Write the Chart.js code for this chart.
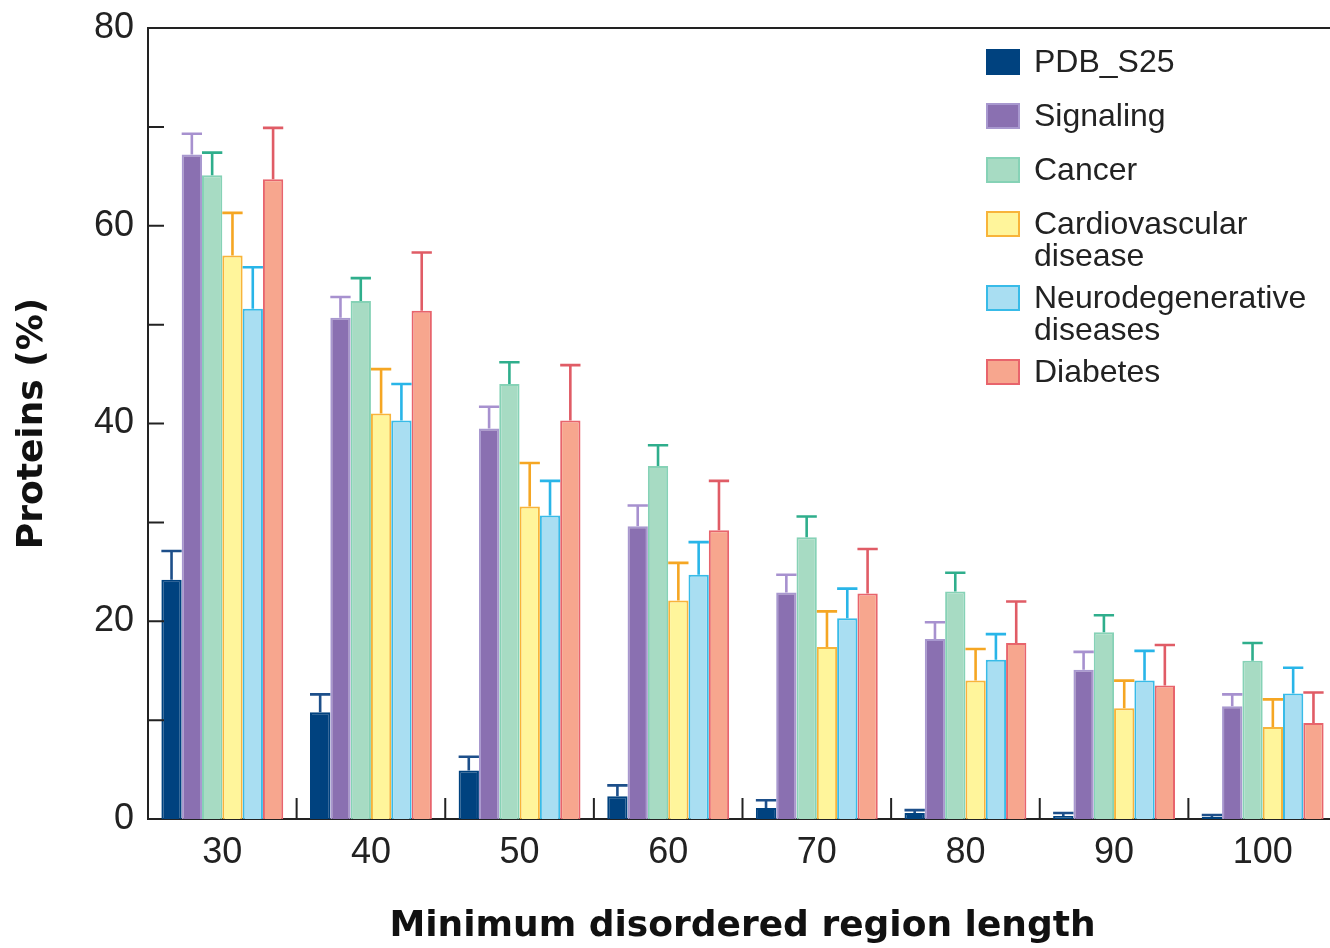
<!DOCTYPE html>
<html>
<head>
<meta charset="utf-8">
<script src="https://cdn.jsdelivr.net/npm/chart.js@4/dist/chart.umd.min.js"></script>
<style>
  html, body { margin: 0; padding: 0; background: #fff; overflow: hidden; }
  #wrap { width: 1345px; height: 948px; }
</style>
</head>
<body>
<div id="wrap"><canvas id="myChart"></canvas></div>
<script>
// values (percent of proteins)
const lengths = ['30', '40', '50', '60', '70', '80', '90', '100'];

const pdb      = [24.2, 10.8, 4.9, 2.3, 1.1, 0.6, 0.3, 0.2];
const pdbErr   = [27.1, 12.6, 6.3, 3.4, 1.9, 0.9, 0.6, 0.4];
const signal   = [67.2, 50.7, 39.5, 29.6, 22.9, 18.2, 15.1, 11.4];
const signalErr = [69.3, 52.8, 41.7, 31.7, 24.7, 19.9, 16.9, 12.6];
const cancer   = [65.1, 52.4, 44.0, 35.7, 28.5, 23.0, 18.9, 16.0];
const cancerErr = [67.4, 54.7, 46.2, 37.8, 30.6, 24.9, 20.6, 17.8];
const cardio   = [57.0, 41.0, 31.6, 22.1, 17.4, 14.0, 11.2, 9.3];
const cardioErr = [61.3, 45.5, 36.0, 25.9, 21.0, 17.2, 14.0, 12.1];
const neuro    = [51.6, 40.3, 30.7, 24.7, 20.3, 16.1, 14.0, 12.7];
const neuroErr = [55.8, 44.0, 34.2, 28.0, 23.3, 18.7, 17.0, 15.3];
const diabetes = [64.7, 51.4, 40.3, 29.2, 22.8, 17.8, 13.5, 9.7];
const diabetesErr = [69.9, 57.3, 45.9, 34.2, 27.3, 22.0, 17.6, 12.8];

const yTicks = [0, 20, 40, 60, 80];

function series(label, values, err, fill, border, errColor) {
  return {
    label: label,
    data: values,
    errTop: err,
    errColor: errColor,
    backgroundColor: fill,
    borderColor: border,
    borderWidth: 2,
    borderSkipped: 'bottom',
    categoryPercentage: 0.82,
    barPercentage: 1.0
  };
}

const data = {
  labels: lengths,
  datasets: [
    series('PDB_S25', pdb, pdbErr, '#00427f', '#00427f', '#1d4f8a'),
    series('Signaling', signal, signalErr, '#8a70b1', '#a898cf', '#a791cf'),
    series('Cancer', cancer, cancerErr, '#a7dbc3', '#86d2b6', '#2fae8c'),
    series('Cardiovascular\ndisease', cardio, cardioErr, '#fff59b', '#f8b43a', '#f5a623'),
    series('Neurodegenerative\ndiseases', neuro, neuroErr, '#a9def2', '#38bbe8', '#29b5e8'),
    series('Diabetes', diabetes, diabetesErr, '#f7a68e', '#e8646c', '#e05c66')
  ]
};

// upward-only error bars with caps
const errorBars = {
  id: 'errorBars',
  afterDatasetsDraw(chart) {
    const ctx = chart.ctx;
    const y = chart.scales.y;
    chart.data.datasets.forEach((ds, i) => {
      const meta = chart.getDatasetMeta(i);
      ctx.save();
      ctx.strokeStyle = ds.errColor;
      ctx.lineWidth = 2.6;
      meta.data.forEach((bar, j) => {
        const top = y.getPixelForValue(ds.errTop[j]);
        const half = bar.width / 2;
        ctx.beginPath();
        ctx.moveTo(bar.x, bar.y);
        ctx.lineTo(bar.x, top);
        ctx.moveTo(bar.x - half, top);
        ctx.lineTo(bar.x + half, top);
        ctx.stroke();
      });
      ctx.restore();
    });
  }
};

// frame: top border, inward y ticks, x ticks between groups
const frame = {
  id: 'frame',
  afterDraw(chart) {
    const {ctx, chartArea: a, scales: {x, y}} = chart;
    ctx.save();
    ctx.strokeStyle = '#222';
    ctx.lineWidth = 2;
    ctx.beginPath();
    ctx.moveTo(a.left, a.top);
    ctx.lineTo(a.right, a.top);
    for (let v = 10; v < 80; v += 10) {
      const py = y.getPixelForValue(v);
      ctx.moveTo(a.left, py);
      ctx.lineTo(a.left + 16, py);
    }
    for (let i = 1; i < lengths.length; i++) {
      const px = (x.getPixelForValue(i - 1) + x.getPixelForValue(i)) / 2;
      ctx.moveTo(px, a.bottom);
      ctx.lineTo(px, a.bottom - 21);
    }
    ctx.stroke();
    ctx.restore();
  }
};

// legend with wrapped names, drawn top right inside the plot
const boxLegend = {
  id: 'boxLegend',
  afterDraw(chart) {
    const ctx = chart.ctx;
    ctx.save();
    ctx.font = '32px "Liberation Sans", Arial, sans-serif';
    ctx.textBaseline = 'middle';
    let cy = 62;
    chart.data.datasets.forEach(ds => {
      const lines = ds.label.split('\n');
      ctx.fillStyle = ds.backgroundColor;
      ctx.fillRect(987, cy - 12, 32, 24);
      ctx.strokeStyle = ds.borderColor;
      ctx.lineWidth = 2;
      ctx.strokeRect(987, cy - 12, 32, 24);
      ctx.fillStyle = '#222';
      lines.forEach((t, k) => ctx.fillText(t, 1034, cy + 1 + k * 32));
      cy += 54 + (lines.length - 1) * 20;
    });
    ctx.restore();
  }
};

const config = {
  type: 'bar',
  data: data,
  options: {
    responsive: true,
    maintainAspectRatio: false,
    animation: false,
    layout: { padding: { top: 28, right: 8, left: 0, bottom: 0 } },
    plugins: {
      legend: { display: false },
      tooltip: { enabled: false }
    },
    scales: {
      x: {
        grid: { display: false, drawTicks: false },
        border: { display: true, color: '#222', width: 2 },
        ticks: {
          color: '#222',
          padding: 12,
          font: { family: '"Liberation Sans", Arial, sans-serif', size: 36 }
        },
        title: {
          display: true,
          text: 'Minimum disordered region length',
          color: '#111',
          padding: { top: 0, bottom: 0 },
          font: { family: '"DejaVu Sans", sans-serif', size: 36, weight: 'bold' }
        },
        afterFit(scale) { scale.height = 129; }
      },
      y: {
        min: 0,
        max: 80,
        grid: { display: false, drawTicks: false },
        border: { display: true, color: '#222', width: 2 },
        ticks: {
          stepSize: 10,
          color: '#222',
          padding: 14,
          font: { family: '"Liberation Sans", Arial, sans-serif', size: 36 },
          callback: v => yTicks.includes(v) ? v : ''
        },
        title: {
          display: true,
          text: 'Proteins (%)',
          color: '#111',
          padding: { top: 11, bottom: 0 },
          font: { family: '"DejaVu Sans", sans-serif', size: 36, weight: 'bold' }
        },
        afterFit(scale) {
          scale.width = 148;
          scale.paddingTop = 0;
          scale.paddingBottom = 0;
        }
      }
    }
  },
  plugins: [errorBars, frame, boxLegend]
};

let myChart = new Chart(document.getElementById('myChart').getContext('2d'), config);
</script>
</body>
</html>
